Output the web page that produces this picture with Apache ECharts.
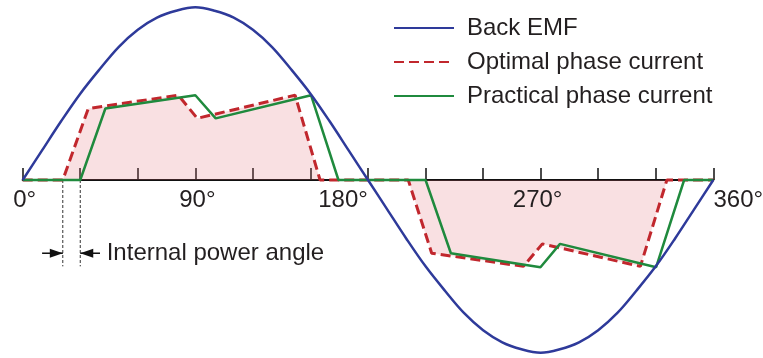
<!DOCTYPE html>
<html><head><meta charset="utf-8">
<script src="https://cdn.jsdelivr.net/npm/echarts@6/dist/echarts.min.js"></script>
<style>html,body{margin:0;padding:0;background:#fff}#c{width:763px;height:358px}</style>
</head><body><div id="c"></div>
<script>
// Angles in degrees, values normalised to back-EMF peak = 1
const emfAngles = [0,10,20,30,40,50,60,70,80,90,100,110,120,130,140,150,160,170,180,190,200,210,220,230,240,250,260,270,280,290,300,310,320,330,340,350,360];
const emfValues = [0,0.17,0.34,0.5,0.64,0.77,0.87,0.94,0.98,1,0.98,0.94,0.87,0.77,0.64,0.5,0.34,0.17,0,-0.17,-0.34,-0.5,-0.64,-0.77,-0.87,-0.94,-0.98,-1,-0.98,-0.94,-0.87,-0.77,-0.64,-0.5,-0.34,-0.17,0];
const optAngles = [0,20.9,34.2,81.1,91,142,155,201,213.2,261,270.9,322,335.8,360];
const optValues = [0,0,0.414,0.491,0.357,0.491,0,0,-0.424,-0.5,-0.37,-0.5,0,0];
const pracAngles = [0,30,43.1,90,100.6,150.3,164.6,210,223.2,269.9,280.1,330.2,344.8,360];
const pracValues = [0,0,0.414,0.491,0.357,0.491,0,0,-0.424,-0.505,-0.37,-0.505,0,0];
const seriesNames = ['Back EMF','Optimal phase current','Practical phase current'];
const tickLabels = {0:'0°',90:'90°',180:'180°',270:'270°',360:'360°'};
const powerAngle = [20.9, 30];          // start of optimal / practical current
const guideDepth = -0.5;                // bottom of the dashed guide lines
const arrowLevel = -0.424;              // level of the arrows
const arrowTails = [10.1, 40.3];        // angles where arrows start
const annotationText = 'Internal power angle';

const FONT = '"Liberation Sans", Arial, Helvetica, sans-serif';
const TXT = '#231f20';
const zip = (a,b)=>a.map((x,i)=>[x,b[i]]);

const chart = echarts.init(document.getElementById('c'));
const lbl = pad => ({fontSize:24,fontFamily:FONT,color:TXT,padding:pad});
const lblRich = {
  c0:lbl([0,0,0,4]), c90:lbl([0,0,0,4]), c180:lbl([0,50,0,0]),
  c270:lbl([0,6,0,0]), c360:lbl([0,0,0,50])
};
const guide = x => ({type:'line',silent:true,clip:false,symbol:'none',z:1,
  data:[[x,0],[x,guideDepth]],lineStyle:{color:'#333',width:1,type:[3,2]}});
const arrow = (from,to) => ({type:'line',silent:true,clip:false,z:1,showSymbol:true,
  data:[{value:[from,arrowLevel],symbol:'none'},
        {value:[to,arrowLevel],symbol:'triangle',symbolSize:[9,13],symbolRotate:to>from?-90:90,
         symbolOffset:[to>from?-6.5:6.5,0]}],
  itemStyle:{color:'#111'},lineStyle:{color:'#111',width:1.5}});
chart.setOption({
  animation:false,
  grid:{left:22.7,right:49.7,top:7.3,bottom:178,outerBoundsMode:'none',containLabel:false},
  legend:{
    left:388, top:11, orient:'vertical', itemWidth:60, itemHeight:14, itemGap:10,
    itemStyle:{opacity:0},
    textStyle:{fontSize:24,fontFamily:FONT,color:TXT,lineHeight:24,padding:[0,0,0,8]},
    data:seriesNames
  },
  xAxis:[{
    type:'value', min:0, max:360, interval:30, position:'bottom',
    axisLine:{onZero:false,lineStyle:{color:'#111',width:2}},
    axisTick:{inside:true,length:12,lineStyle:{color:'#111',width:1.5}},
    splitLine:{show:false}, axisLabel:{show:false}
  },{
    type:'value', min:0, max:360, interval:30, position:'bottom', z:20,
    axisLine:{show:false,onZero:false}, axisTick:{show:false}, splitLine:{show:false},
    axisLabel:{margin:8,showMinLabel:true,showMaxLabel:true,hideOverlap:false,
      formatter:v=>tickLabels[v]!==undefined?('{c'+v+'|'+tickLabels[v]+'}'):'',
      rich:lblRich}
  }],
  yAxis:{type:'value',min:0,max:1,show:false},
  graphic:[{
    type:'text', left:106.7, top:241,
    style:{text:annotationText,fontSize:24,fontFamily:FONT,fill:TXT}
  }],
  series:[
    guide(powerAngle[0]), guide(powerAngle[1]),
    arrow(arrowTails[0], powerAngle[0]), arrow(arrowTails[1], powerAngle[1]),
    {name:seriesNames[1],type:'line',data:zip(optAngles,optValues),symbol:'none',clip:false,z:2,
      lineStyle:{color:'#c1272d',width:3,type:[10,5]},
      itemStyle:{color:'#c1272d'},
      areaStyle:{color:'rgba(226,110,120,0.3)',origin:0}},
    {name:seriesNames[2],type:'line',data:zip(pracAngles,pracValues),symbol:'none',clip:false,z:3,
      lineStyle:{color:'#1f8a3d',width:2.5},itemStyle:{color:'#1f8a3d'}},
    {name:seriesNames[0],type:'line',data:zip(emfAngles,emfValues),symbol:'none',smooth:0.35,clip:false,z:4,
      lineStyle:{color:'#2e3a9a',width:2.5},itemStyle:{color:'#2e3a9a'}}
  ]
});
</script></body></html>
